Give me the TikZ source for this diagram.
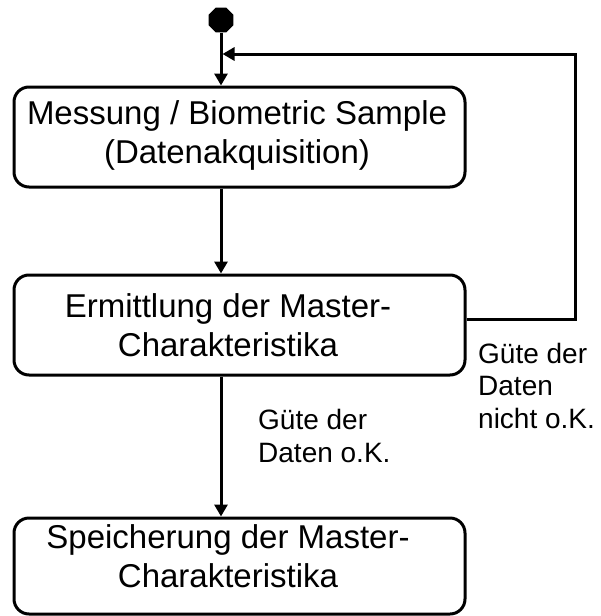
\documentclass[tikz,border=0pt]{standalone}
\usepackage{fontspec}
\setmainfont{Liberation Sans}
\usetikzlibrary{arrows.meta,shapes.geometric}
\begin{document}
\begin{tikzpicture}[x=1pt,y=-1pt,
 box/.style={draw,line width=3pt,rounded corners=15pt,minimum width=451pt,minimum height=100pt,inner sep=0pt},
 boxtext/.style={font=\fontsize{33}{39}\selectfont,align=center,inner sep=0pt,anchor=base},
 lbl/.style={font=\fontsize{28}{32.5}\selectfont,align=left,inner sep=0pt,anchor=base west},
 conn/.style={line width=3pt,-{Triangle[width=13pt,length=12pt]}}]
\useasboundingbox (0,0) rectangle (601,616);
\node[regular polygon,regular polygon sides=8,fill=black,minimum size=27pt,inner sep=0pt] (start) at (221,20) {};
\node[box] (b1) at (239.5,137) {};
\node[box] (b2) at (239.5,325) {};
\node[box,minimum height=96pt] (b3) at (239.5,566) {};
\node[boxtext] (t1) at (237,163) {Messung / Biometric Sample\\(Datenakquisition)};
\node[boxtext] (t2) at (228,356) {Ermittlung der Master-\\Charakteristika};
\node[boxtext] (t3) at (228,587) {Speicherung der Master-\\Charakteristika};
\node[lbl] (l1) at (478,428) {Güte der\\Daten\\nicht o.K.};
\node[lbl] (l2) at (258,462) {Güte der\\Daten o.K.};
\coordinate (j) at (start |- 0,54);
\coordinate (r) at (575,319);
\draw[conn] (start) -- (start |- b1.north);
\draw[conn] (b1.south -| start) -- (b2.north -| start);
\draw[conn] (b2.south -| start) -- (b3.north -| start);
\draw[conn] (b2.east |- r) -- (r) -- (r |- j) -- ([xshift=1.5pt]j);
\end{tikzpicture}
\end{document}
